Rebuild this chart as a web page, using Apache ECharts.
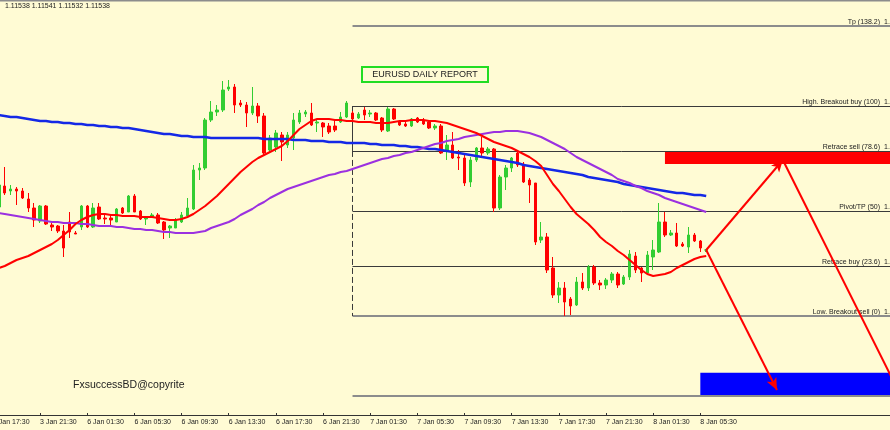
<!DOCTYPE html>
<html><head><meta charset="utf-8">
<script src="https://cdn.jsdelivr.net/npm/echarts@6/dist/echarts.min.js"></script>
<style>html,body{margin:0;padding:0;background:#FFFBD4}#c{width:890px;height:430px}</style>
</head><body><div id="c"></div>
<script>
// ---- tick labels (every 8th 30-minute bar) ----
const tickLabels = ["3 Jan 17:30","3 Jan 21:30","6 Jan 01:30","6 Jan 05:30","6 Jan 09:30","6 Jan 13:30","6 Jan 17:30","6 Jan 21:30","7 Jan 01:30","7 Jan 05:30","7 Jan 09:30","7 Jan 13:30","7 Jan 17:30","7 Jan 21:30","8 Jan 01:30","8 Jan 05:30"];

// ---- EURUSD M30 candles (first visible bar = 3 Jan 18:00) ----
const openP = [
1.11667,1.11730,1.11715,1.11721,1.11715,1.11691,1.11664,1.11625,1.11670,1.11613,
1.11610,1.11595,1.11622,1.11589,1.11607,1.11670,1.11607,1.11667,1.11634,1.11634,
1.11622,1.11664,1.11652,1.11700,1.11655,1.11631,1.11637,1.11643,1.11622,1.11604,
1.11604,1.11622,1.11640,1.11661,1.11778,1.11784,1.11928,1.11952,1.11958,1.12021,
1.12027,1.11979,1.11973,1.11949,1.11970,1.11940,1.11838,1.11847,1.11883,1.11853,
1.11874,1.11922,1.11946,1.11949,1.11919,1.11919,1.11910,1.11910,1.11922,1.11937,
1.11949,1.11934,1.11958,1.11946,1.11949,1.11934,1.11895,1.11961,1.11922,1.11916,
1.11910,1.11934,1.11928,1.11922,1.11904,1.11910,1.11838,1.11853,1.11817,1.11814,
1.11742,1.11808,1.11844,1.11829,1.11841,1.11664,1.11757,1.11784,1.11829,1.11796,
1.11748,1.11739,1.11568,1.11577,1.11484,1.11403,1.11424,1.11391,1.11373,1.11442,
1.11424,1.11487,1.11439,1.11433,1.11448,1.11466,1.11436,1.11457,1.11520,1.11484,
1.11469,1.11517,1.11532,1.11622,1.11583,1.11589,1.11556,1.11547,1.11583,1.11565,
1.11538];
const highP = [
1.11760,1.11787,1.11733,1.11727,1.11724,1.11709,1.11679,1.11673,1.11673,1.11619,
1.11613,1.11613,1.11652,1.11595,1.11673,1.11673,1.11679,1.11679,1.11649,1.11643,
1.11664,1.11667,1.11703,1.11706,1.11658,1.11637,1.11649,1.11649,1.11625,1.11613,
1.11634,1.11652,1.11694,1.11793,1.11799,1.11934,1.11985,1.11973,1.12045,1.12048,
1.12036,1.11988,1.11982,1.12027,1.11979,1.11949,1.11883,1.11898,1.11892,1.11892,
1.11949,1.11958,1.11958,1.11979,1.11928,1.11922,1.11919,1.11928,1.11952,1.11985,
1.11955,1.11952,1.11967,1.11958,1.11952,1.11937,1.11967,1.11964,1.11928,1.11922,
1.11934,1.11937,1.11934,1.11928,1.11916,1.11916,1.11883,1.11892,1.11838,1.11823,
1.11817,1.11847,1.11877,1.11847,1.11844,1.11763,1.11793,1.11817,1.11838,1.11802,
1.11754,1.11739,1.11622,1.11589,1.11517,1.11442,1.11442,1.11397,1.11457,1.11469,
1.11493,1.11493,1.11448,1.11454,1.11472,1.11472,1.11463,1.11538,1.11532,1.11487,
1.11535,1.11568,1.11679,1.11652,1.11598,1.11619,1.11562,1.11607,1.11589,1.11568,
1.11541];
const lowP = [
1.11658,1.11703,1.11703,1.11673,1.11691,1.11652,1.11607,1.11619,1.11613,1.11595,
1.11589,1.11517,1.11574,1.11586,1.11598,1.11604,1.11604,1.11628,1.11616,1.11613,
1.11622,1.11646,1.11652,1.11652,1.11628,1.11613,1.11634,1.11616,1.11571,1.11574,
1.11604,1.11619,1.11637,1.11658,1.11748,1.11778,1.11922,1.11940,1.11952,1.12015,
1.11949,1.11967,1.11907,1.11943,1.11919,1.11823,1.11832,1.11832,1.11805,1.11844,
1.11838,1.11916,1.11937,1.11910,1.11892,1.11877,1.11886,1.11892,1.11919,1.11934,
1.11928,1.11931,1.11928,1.11937,1.11925,1.11892,1.11892,1.11928,1.11910,1.11907,
1.11907,1.11919,1.11913,1.11901,1.11898,1.11826,1.11808,1.11811,1.11778,1.11730,
1.11727,1.11802,1.11817,1.11823,1.11652,1.11658,1.11718,1.11772,1.11787,1.11739,
1.11679,1.11553,1.11559,1.11469,1.11394,1.11379,1.11340,1.11343,1.11370,1.11418,
1.11415,1.11433,1.11418,1.11421,1.11439,1.11424,1.11433,1.11448,1.11469,1.11442,
1.11466,1.11478,1.11529,1.11577,1.11580,1.11547,1.11547,1.11529,1.11562,1.11532,
1.11532];
const closeP = [
1.11733,1.11709,1.11721,1.11715,1.11694,1.11664,1.11628,1.11670,1.11616,1.11607,
1.11595,1.11544,1.11592,1.11586,1.11670,1.11607,1.11664,1.11631,1.11631,1.11628,
1.11661,1.11649,1.11700,1.11652,1.11631,1.11637,1.11643,1.11619,1.11598,1.11610,
1.11628,1.11643,1.11664,1.11778,1.11784,1.11928,1.11952,1.11958,1.12018,1.12027,
1.11973,1.11973,1.11949,1.11970,1.11940,1.11829,1.11874,1.11889,1.11862,1.11883,
1.11928,1.11949,1.11952,1.11913,1.11922,1.11907,1.11892,1.11898,1.11937,1.11979,
1.11931,1.11946,1.11943,1.11949,1.11928,1.11898,1.11961,1.11931,1.11913,1.11910,
1.11931,1.11922,1.11916,1.11904,1.11910,1.11829,1.11853,1.11814,1.11814,1.11739,
1.11808,1.11844,1.11829,1.11841,1.11664,1.11757,1.11784,1.11814,1.11793,1.11742,
1.11733,1.11562,1.11577,1.11478,1.11403,1.11424,1.11382,1.11370,1.11442,1.11424,
1.11487,1.11439,1.11433,1.11448,1.11466,1.11433,1.11457,1.11526,1.11478,1.11469,
1.11523,1.11538,1.11622,1.11583,1.11589,1.11550,1.11550,1.11583,1.11565,1.11544,
1.11538];

// ---- moving averages (fast red, mid purple, slow blue) ----
const maFast = [
1.11484,1.11490,1.11499,1.11508,1.11514,1.11520,1.11529,1.11538,1.11547,1.11556,
1.11568,1.11583,1.11598,1.11616,1.11628,1.11637,1.11643,1.11646,1.11646,1.11643,
1.11643,1.11640,1.11640,1.11640,1.11637,1.11637,1.11637,1.11634,1.11631,1.11628,
1.11628,1.11631,1.11637,1.11646,1.11658,1.11670,1.11685,1.11700,1.11718,1.11736,
1.11754,1.11772,1.11787,1.11802,1.11814,1.11823,1.11832,1.11841,1.11850,1.11865,
1.11883,1.11901,1.11913,1.11925,1.11931,1.11931,1.11931,1.11928,1.11928,1.11925,
1.11925,1.11922,1.11922,1.11922,1.11919,1.11919,1.11919,1.11922,1.11925,1.11925,
1.11928,1.11928,1.11928,1.11925,1.11925,1.11922,1.11919,1.11913,1.11907,1.11901,
1.11895,1.11889,1.11880,1.11871,1.11862,1.11856,1.11850,1.11844,1.11835,1.11826,
1.11817,1.11805,1.11790,1.11763,1.11736,1.11715,1.11691,1.11667,1.11646,1.11631,
1.11616,1.11598,1.11577,1.11562,1.11550,1.11535,1.11523,1.11508,1.11493,1.11478,
1.11466,1.11460,1.11463,1.11466,1.11472,1.11484,1.11493,1.11502,1.11511,1.11517,
1.11520];
const maMid = [
1.11649,1.11646,1.11643,1.11640,1.11637,1.11634,1.11631,1.11628,1.11625,1.11622,
1.11622,1.11619,1.11619,1.11619,1.11616,1.11616,1.11613,1.11610,1.11610,1.11610,
1.11607,1.11607,1.11604,1.11601,1.11601,1.11598,1.11598,1.11595,1.11592,1.11592,
1.11589,1.11589,1.11589,1.11589,1.11592,1.11595,1.11604,1.11610,1.11616,1.11622,
1.11631,1.11643,1.11652,1.11661,1.11673,1.11682,1.11694,1.11703,1.11712,1.11721,
1.11727,1.11733,1.11739,1.11745,1.11751,1.11757,1.11763,1.11766,1.11772,1.11775,
1.11781,1.11787,1.11793,1.11799,1.11805,1.11811,1.11814,1.11820,1.11823,1.11829,
1.11832,1.11838,1.11844,1.11850,1.11856,1.11859,1.11865,1.11868,1.11871,1.11877,
1.11880,1.11883,1.11886,1.11889,1.11892,1.11892,1.11895,1.11895,1.11895,1.11892,
1.11889,1.11883,1.11877,1.11868,1.11859,1.11850,1.11841,1.11829,1.11817,1.11808,
1.11799,1.11790,1.11781,1.11772,1.11763,1.11751,1.11745,1.11739,1.11730,1.11724,
1.11715,1.11709,1.11703,1.11694,1.11688,1.11682,1.11676,1.11670,1.11664,1.11658,
1.11652];
const maSlow = [
1.11943,1.11940,1.11937,1.11937,1.11934,1.11931,1.11928,1.11925,1.11925,1.11922,
1.11922,1.11919,1.11919,1.11916,1.11916,1.11913,1.11913,1.11910,1.11910,1.11907,
1.11907,1.11904,1.11904,1.11901,1.11898,1.11895,1.11892,1.11889,1.11886,1.11886,
1.11883,1.11880,1.11880,1.11877,1.11877,1.11877,1.11874,1.11874,1.11874,1.11874,
1.11874,1.11874,1.11874,1.11874,1.11874,1.11871,1.11871,1.11871,1.11871,1.11871,
1.11868,1.11868,1.11868,1.11865,1.11865,1.11865,1.11862,1.11862,1.11862,1.11859,
1.11859,1.11859,1.11859,1.11856,1.11856,1.11853,1.11853,1.11853,1.11850,1.11850,
1.11847,1.11847,1.11844,1.11841,1.11841,1.11838,1.11835,1.11832,1.11829,1.11826,
1.11823,1.11820,1.11817,1.11814,1.11811,1.11808,1.11805,1.11802,1.11799,1.11793,
1.11790,1.11787,1.11784,1.11781,1.11778,1.11775,1.11772,1.11769,1.11766,1.11763,
1.11757,1.11754,1.11751,1.11748,1.11745,1.11742,1.11736,1.11733,1.11730,1.11727,
1.11724,1.11721,1.11718,1.11715,1.11712,1.11709,1.11709,1.11706,1.11703,1.11703,
1.11700];

// ---- Fibonacci (7 Jan daily range), drawn from the 7 Jan 00:00 bar ----
const fibHigh = 1.11970;
const fibLow = 1.11340;
const fibRatios = [138.2, 100, 78.6, 50, 23.6, 0, -38.2];
const fibNames = ["Tp (138.2)", "High. Breakout buy (100)", "Retrace sell (78.6)", "Pivot/TP (50)", "Retrace buy (23.6)", "Low. Breakout sell (0)", "TP (-38.2)"];
const fibStartCat = 61;          // category index of 7 Jan 00:00
// ---- target zones [startCat, priceTop, priceBottom] ----
const sellZone = [114, 1.11835, 1.11796];
const buyZone = [120, 1.11170, 1.11099];
// ---- projection arrows [[cat, price], [cat, price]] ----
const arrowUp = [[121, 1.11538], [134, 1.11808]];
const arrowDownFar = [[134, 1.11808], [153, 1.11136]];
const arrowDown = [[121, 1.11538], [133, 1.11118]];

const titleText = "EURUSD DAILY REPORT";
const watermark = "FxsuccessBD@copyrite";

const N_CAT = 154;
const FONT = "'Liberation Sans', Arial, sans-serif";
const BULL = '#32CD32', BEAR = '#FF0000';

const categories = [];
for (let i = 0; i < N_CAT; i++) {
  categories.push(i % 8 === 0 && i / 8 < tickLabels.length ? tickLabels[i / 8] : 'c' + i);
}
const showTick = (i) => i % 8 === 0 && i / 8 < tickLabels.length;

const candleData = ['-'];
openP.forEach((o, i) => {
  const v = [o, closeP[i], lowP[i], highP[i]];
  if (o === closeP[i]) candleData.push({ value: v, itemStyle: { color: BULL, color0: BULL, borderColor: BULL, borderColor0: BULL } });
  else candleData.push(v);
});
const pad = (arr) => ['-'].concat(arr);

const fibPrices = fibRatios.map(r => fibLow + (fibHigh - fibLow) * r / 100);
const heavy = (r) => r === 138.2 || r === 0 || r === -38.2;
const lastCat = N_CAT - 1;

const fibLines = fibPrices.map((p, i) => [
  { coord: [fibStartCat, p], lineStyle: { color: heavy(fibRatios[i]) ? '#8c8c8c' : '#3a3a3a', width: heavy(fibRatios[i]) ? 2 : 1, type: 'solid' } },
  { coord: [lastCat, p] }
]);
fibLines.push([{ coord: [fibStartCat, fibPrices[1]], lineStyle: { color: '#3a3a3a', width: 1, type: 'solid' } }, { coord: [fibStartCat, fibPrices[2]] }]);
fibLines.push([{ coord: [fibStartCat, fibPrices[2]], lineStyle: { color: '#3a3a3a', width: 1, type: [6, 3] } }, { coord: [fibStartCat, fibPrices[5]] }]);

const chart = echarts.init(document.getElementById('c'), null, { renderer: 'canvas' });
const option = {
  animation: false,
  backgroundColor: '#FFFBD4',
  grid: { left: -10, top: 0, width: 907.8, height: 415, containLabel: false, outerBoundsMode: 'none' },
  xAxis: {
    type: 'category', data: categories, boundaryGap: true,
    axisLine: { show: true, lineStyle: { color: '#333', width: 1 } },
    axisTick: { show: true, alignWithLabel: true, interval: showTick, inside: true, length: 2, lineStyle: { color: '#333' } },
    axisLabel: { interval: showTick, align: 'left', margin: 4, fontSize: 7, color: '#222', fontFamily: FONT,
      hideOverlap: false, showMinLabel: true, formatter: (v) => v },
    splitLine: { show: false }
  },
  yAxis: { type: 'value', min: 1.11043, max: 1.12288, show: false, splitLine: { show: false } },
  series: [
    {
      type: 'candlestick', data: candleData, barWidth: 3, z: 3,
      itemStyle: { color: BULL, color0: BEAR, borderColor: BULL, borderColor0: BEAR, borderWidth: 1 },
      markLine: { silent: true, symbol: ['none', 'none'], label: { show: false }, z: 1, data: fibLines },
      markArea: { silent: true, z: 1, data: [
        [{ coord: [sellZone[0], sellZone[1]], itemStyle: { color: '#FF0000', opacity: 1 } }, { coord: [lastCat, sellZone[2]] }],
        [{ coord: [buyZone[0], buyZone[1]], itemStyle: { color: '#0000FF', opacity: 1 } }, { coord: [lastCat, buyZone[2]] }]
      ] }
    },
    { type: 'line', data: pad(maSlow), showSymbol: false, z: 4, lineStyle: { color: '#1428E6', width: 2.5 } },
    { type: 'line', data: pad(maMid), showSymbol: false, z: 4, lineStyle: { color: '#9B30E0', width: 2 } },
    {
      type: 'line', data: pad(maFast), showSymbol: false, z: 5, lineStyle: { color: '#FF0000', width: 2 },
      markLine: { silent: true, label: { show: false }, symbol: ['none', 'arrow'], symbolSize: [8, 12],
        lineStyle: { color: '#FF0000', width: 2, type: 'solid' },
        data: [
          [{ coord: arrowUp[0] }, { coord: arrowUp[1] }],
          [{ coord: arrowDownFar[0], symbol: 'none' }, { coord: arrowDownFar[1], symbol: 'none' }],
          [{ coord: arrowDown[0] }, { coord: arrowDown[1] }]
        ] }
    }
  ]
};
chart.setOption(option);

const px = (cat, price) => chart.convertToPixel({ gridIndex: 0 }, [cat, price]);
const g = [];
g.push({ type: 'line', shape: { x1: 0, y1: 0.75, x2: 890, y2: 0.75 }, style: { stroke: '#8c8c8c', lineWidth: 1.5 }, silent: true });
const n = openP.length - 1;
g.push({ type: 'text', left: 5, top: 3, silent: true,
  style: { text: [openP[n], highP[n], lowP[n], closeP[n]].map(v => v.toFixed(5)).join(' '), fill: '#222', font: '7px ' + FONT } });
fibPrices.forEach((p, i) => {
  const y = px(fibStartCat, p)[1];
  g.push({ type: 'text', x: 880, y: y - 0.5, silent: true,
    style: { text: fibNames[i], fill: '#222', font: '7px ' + FONT, textAlign: 'right', textVerticalAlign: 'bottom' } });
  g.push({ type: 'text', x: 884, y: y - 0.5, silent: true,
    style: { text: p.toFixed(5), fill: '#222', font: '7px ' + FONT, textAlign: 'left', textVerticalAlign: 'bottom' } });
});
g.push({ type: 'rect', shape: { x: 362, y: 67, width: 126, height: 15 }, style: { fill: 'none', stroke: '#22DD22', lineWidth: 2 }, silent: true });
g.push({ type: 'text', x: 425, y: 75, silent: true,
  style: { text: titleText, fill: '#222', font: '9px ' + FONT, textAlign: 'center', textVerticalAlign: 'middle' } });
g.push({ type: 'text', x: 73, y: 385, silent: true,
  style: { text: watermark, fill: '#222', font: '10.5px ' + FONT, textAlign: 'left', textVerticalAlign: 'middle' } });
chart.setOption({ graphic: g });
</script></body></html>
